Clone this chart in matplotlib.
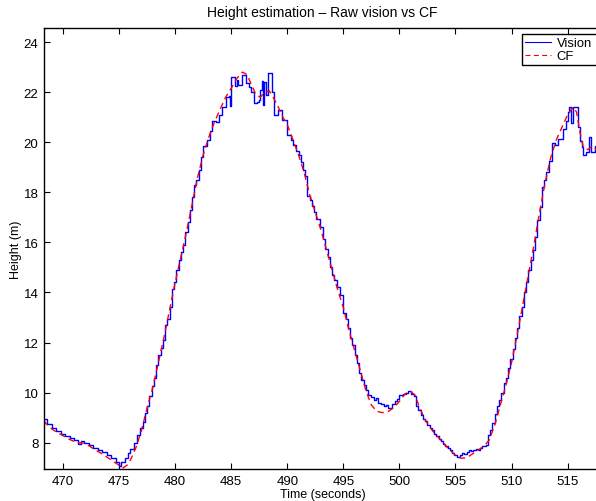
import matplotlib
matplotlib.use("Agg")
import matplotlib.pyplot as plt

plt.rcParams['font.family'] = ['Liberation Sans', 'DejaVu Sans']

# Raw vision estimate (step samples)
vision_t = [468.3, 468.6, 469.0, 469.4, 469.8, 470.2, 470.6, 471.0, 471.3, 471.6,
            471.9, 472.3, 472.7, 473.1, 473.5, 473.9, 474.3, 474.7, 475.0, 475.2,
            475.5, 475.8, 476.0, 476.3, 476.6, 476.9, 477.1, 477.3, 477.5, 477.7,
            477.9, 478.1, 478.3, 478.5, 478.7, 478.9, 479.1, 479.3, 479.5, 479.7,
            479.9, 480.1, 480.3, 480.5, 480.7, 480.9, 481.1, 481.3, 481.5, 481.7,
            481.9, 482.1, 482.3, 482.5, 482.8, 483.1, 483.3, 483.6, 483.9, 484.2,
            484.5, 484.8, 484.9, 485.0, 485.3, 485.5, 485.6, 485.8, 486.0, 486.3,
            486.6, 486.8, 487.0, 487.3, 487.5, 487.6, 487.7, 487.8, 487.9, 488.1,
            488.3, 488.6, 488.8, 489.2, 489.5, 489.8, 490.0, 490.3, 490.5, 490.8,
            491.0, 491.2, 491.4, 491.6, 491.75, 492.0, 492.2, 492.4, 492.6, 492.9,
            493.2, 493.4, 493.6, 493.8, 494.0, 494.2, 494.4, 494.7, 495.0, 495.2,
            495.4, 495.6, 495.8, 496.0, 496.2, 496.4, 496.6, 496.8, 497.0, 497.2,
            497.5, 497.7, 497.9, 498.1, 498.4, 498.6, 498.8, 499.0, 499.3, 499.6,
            499.8, 500.0, 500.3, 500.6, 500.8, 501.0, 501.3, 501.5, 501.7, 501.9,
            502.1, 502.3, 502.5, 502.7, 502.9, 503.1, 503.3, 503.5, 503.7, 503.9,
            504.1, 504.3, 504.5, 504.7, 504.9, 505.1, 505.4, 505.6, 505.8, 506.0,
            506.2, 506.4, 506.6, 506.8, 507.0, 507.2, 507.4, 507.7, 507.9, 508.1,
            508.3, 508.5, 508.7, 508.9, 509.1, 509.3, 509.5, 509.7, 509.9, 510.1,
            510.3, 510.5, 510.7, 510.9, 511.1, 511.3, 511.5, 511.7, 511.9, 512.1,
            512.3, 512.5, 512.7, 512.9, 513.1, 513.3, 513.6, 513.9, 514.1, 514.55,
            514.85, 515.0, 515.1, 515.3, 515.5, 515.9, 516.1, 516.25, 516.4, 516.6,
            516.9, 517.1, 517.4, 517.6, 518.0]
vision_h = [8.93, 8.75, 8.6, 8.45, 8.35, 8.28, 8.18, 8.1, 7.96, 8.08,
            8.0, 7.9, 7.8, 7.72, 7.62, 7.5, 7.38, 7.25, 7.08, 7.25,
            7.4, 7.6, 7.76, 8.0, 8.3, 8.6, 8.84, 9.2, 9.45, 9.85,
            10.25, 10.6, 11.1, 11.5, 11.8, 12.1, 12.7, 12.95, 13.4, 14.15,
            14.4, 14.9, 15.3, 15.6, 15.9, 16.4, 16.8, 17.3, 17.8, 18.3,
            18.5, 18.9, 19.4, 19.85, 20.1, 20.45, 20.86, 20.8, 21.1, 21.4,
            21.8, 21.86, 21.45, 22.6, 22.26, 22.5, 22.3, 22.3, 22.7, 22.35,
            22.2, 22.0, 21.55, 21.6, 21.7, 22.1, 22.45, 21.5, 22.4, 21.9,
            22.76, 22.0, 21.1, 21.3, 20.9, 20.9, 20.3, 20.1, 19.9, 19.65,
            19.5, 19.2, 18.9, 18.67, 17.87, 17.7, 17.47, 17.2, 16.94, 16.6,
            16.14, 15.74, 15.4, 15.0, 14.7, 14.5, 14.2, 13.9, 13.2, 12.95,
            12.6, 12.2, 11.9, 11.5, 11.2, 10.8, 10.5, 10.3, 10.1, 9.9,
            9.82, 9.72, 9.78, 9.6, 9.55, 9.45, 9.5, 9.4, 9.55, 9.65,
            9.75, 9.9, 9.95, 10.0, 10.05, 9.95, 9.85, 9.45, 9.3, 9.1,
            8.95, 8.85, 8.7, 8.6, 8.5, 8.35, 8.25, 8.15, 8.05, 7.95,
            7.85, 7.8, 7.7, 7.6, 7.5, 7.45, 7.5, 7.6, 7.55, 7.62,
            7.7, 7.65, 7.7, 7.75, 7.72, 7.78, 7.85, 7.92, 8.3, 8.5,
            8.8, 9.15, 9.45, 9.7, 10.0, 10.4, 10.6, 11.0, 11.35, 11.75,
            12.2, 12.6, 13.08, 13.4, 14.0, 14.4, 14.9, 15.3, 15.7, 16.2,
            16.9, 17.4, 18.2, 18.5, 18.8, 19.26, 19.95, 19.9, 20.13, 20.53,
            20.86, 21.2, 21.4, 20.76, 21.4, 20.6, 20.06, 19.8, 19.47, 19.6,
            20.2, 19.6, 19.86, 19.5, 19.5]

# Complementary filter estimate
cf_t = [468.3, 468.5, 469.0, 469.5, 470.0, 470.5, 471.0, 471.5, 472.0, 472.5,
        473.0, 473.5, 474.0, 474.5, 475.0, 475.3, 475.7, 476.0, 476.5, 477.0,
        477.5, 478.0, 478.5, 479.0, 479.5, 480.0, 480.5, 481.0, 481.5, 482.0,
        482.5, 483.0, 483.5, 484.0, 484.5, 485.0, 485.5, 486.0, 486.4, 486.8,
        487.2, 487.6, 488.0, 488.4, 488.8, 489.2, 489.6, 490.0, 490.5, 491.0,
        491.5, 492.0, 492.5, 493.0, 493.5, 494.0, 494.5, 495.0, 495.5, 496.0,
        496.5, 497.0, 497.5, 498.0, 498.5, 499.0, 499.5, 500.0, 500.5, 501.0,
        501.4, 501.8, 502.2, 502.6, 503.0, 503.5, 504.0, 504.5, 505.0, 505.5,
        506.0, 506.5, 507.0, 507.5, 508.0, 508.5, 509.0, 509.5, 510.0, 510.5,
        511.0, 511.5, 512.0, 512.5, 513.0, 513.5, 514.0, 514.5, 515.0, 515.5,
        515.8, 516.1, 516.4, 516.8, 517.2, 517.6, 518.0]
cf_h = [8.9, 8.75, 8.55, 8.4, 8.28, 8.15, 8.05, 8.0, 7.98, 7.82,
        7.68, 7.55, 7.4, 7.25, 7.1, 6.98, 7.1, 7.3, 7.8, 8.5,
        9.4, 10.2, 11.2, 12.2, 13.3, 14.4, 15.4, 16.4, 17.5, 18.6,
        19.5, 20.2, 20.8, 21.3, 21.8, 22.15, 22.55, 22.8, 22.7, 22.3,
        21.9, 21.8, 22.0, 22.05, 21.75, 21.4, 21.0, 20.7, 20.1, 19.5,
        18.8, 17.9, 17.2, 16.5, 15.7, 14.9, 14.1, 13.4, 12.5, 11.7,
        10.9, 10.1, 9.5, 9.25, 9.2, 9.25, 9.4, 9.65, 9.95, 10.05,
        9.9, 9.4, 9.0, 8.7, 8.45, 8.2, 7.95, 7.7, 7.5, 7.38,
        7.4, 7.55, 7.7, 7.85, 8.1, 8.7, 9.5, 10.3, 11.2, 12.3,
        13.5, 14.7, 15.9, 17.2, 18.4, 19.4, 20.1, 20.6, 21.1, 21.4,
        21.2, 20.4, 19.8, 19.7, 19.85, 19.7, 19.6]

x_ticks = [470, 475, 480, 485, 490, 495, 500, 505, 510, 515]
y_ticks = [8, 10, 12, 14, 16, 18, 20, 22, 24]

fig = plt.figure(figsize=(5.96, 5.02), dpi=100)
ax = fig.add_axes([0.0738, 0.0637, 0.935, 0.878])

ax.plot(vision_t, vision_h, color=(0, 0, 1), lw=1.0, drawstyle='steps-post', label='Vision')
ax.plot(cf_t, cf_h, color=(1, 0, 0), lw=1.0, dashes=(4.5, 3), label='CF')

ax.set_xlim(468.3, 518.0)
ax.set_ylim(6.95, 24.55)
ax.set_xticks(x_ticks)
ax.set_yticks(y_ticks)
ax.tick_params(direction='in', top=True, right=False, length=4, width=0.8, labelsize=9.5, pad=4)
for s in ax.spines.values():
    s.set_linewidth(1.0)
    s.set_color('black')

ax.set_title('Height estimation \u2013 Raw vision vs CF', fontsize=10, pad=9)
ax.set_xlabel('Time (seconds)', fontsize=9, labelpad=1)
ax.set_ylabel('Height (m)', fontsize=9, labelpad=1)

leg_x0 = 521.5 / 596
leg_y1 = 1 - 35 / 502
leg_y0 = 1 - 67.3 / 502
leg = ax.legend(loc='upper left',
                bbox_to_anchor=(leg_x0, leg_y0, 0.16, leg_y1 - leg_y0),
                bbox_transform=fig.transFigure, mode='expand', fontsize=9.4,
                fancybox=False, framealpha=1, edgecolor='black', borderpad=0.25,
                handlelength=2.0, labelspacing=0.05, borderaxespad=0,
                handletextpad=0.45)
leg.get_frame().set_linewidth(1.0)
for ln in leg.get_lines():
    ln.set_linewidth(0.8)

fig.savefig('out.png', dpi=100)
